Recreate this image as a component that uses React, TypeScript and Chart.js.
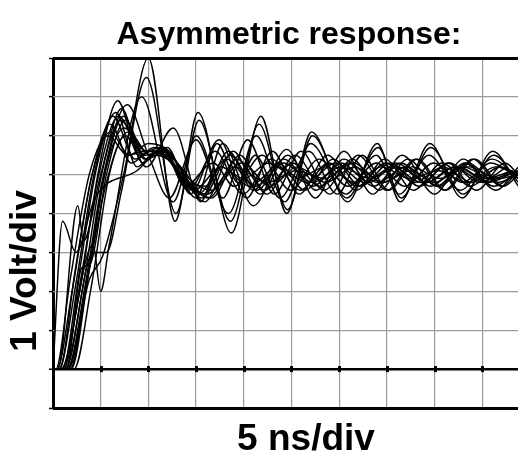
import React, { useEffect, useRef } from "react";
import { Chart, registerables } from "chart.js";

Chart.register(...registerables);

const TITLE = "Asymmetric response:";
const X_LABEL = "5 ns/div";
const Y_LABEL = "1 Volt/div";

// time in ns (5 ns per division), amplitude in volts (1 V per division)
const X_MIN = 0;
const X_MAX = 48.75;
const X_STEP = 5;
const Y_MIN = -1;
const Y_MAX = 8;
const Y_STEP = 1;

type Pt = [number, number];

const traceP1: Pt[] = [[0,0],[1.5,0],[3.8,2.3],[5.2,2.9],[7.4,5.0],[10.0,8.0],[12.8,3.8],[15.2,6.6],[18.7,3.5],[21.8,6.5],[24.5,4.0],[27.1,6.1],[30.9,4.3],[34.0,5.8],[36.4,4.3],[39.5,5.8],[42.9,4.4],[46.1,5.6],[48.8,4.7]];
const traceP2: Pt[] = [[0,0],[1.2,0],[4.2,3.0],[5.6,3.0],[7.2,4.6],[9.8,7.5],[12.9,4.0],[15.3,6.4],[18.6,3.8],[21.6,6.3],[24.6,4.1],[27.2,6.0],[30.8,4.4],[34.1,5.7],[36.5,4.4],[39.6,5.7],[43.0,4.5],[46.2,5.5],[48.8,4.8]];
const traceP3: Pt[] = [[0,0],[0.8,0],[4.2,3.2],[5.0,2.0],[5.9,3.2],[9.3,7.0],[12.6,4.3],[15.0,6.0],[18.4,4.0],[21.3,6.0],[24.3,4.3],[27.0,5.8],[30.7,4.5],[33.9,5.5],[36.3,4.5],[39.4,5.5],[42.7,4.6],[46.0,5.4],[48.8,4.9]];
const traceM1: Pt[] = [[0,0],[0.6,0],[2.4,2.2],[4.3,5.0],[6.3,6.5],[8.6,5.4],[10.6,5.7],[12.4,5.5],[15.6,4.4],[18.6,5.5],[21.4,4.6],[24.2,5.4],[27.2,4.7],[30.2,5.3],[33.2,4.8],[36.0,5.3],[39.2,4.8],[42.0,5.2],[45.2,4.8],[48.2,5.1]];
const traceM2: Pt[] = [[0,0],[0.9,0],[2.8,2.0],[4.7,5.0],[6.8,6.9],[9.0,5.5],[11.2,5.7],[13.0,5.3],[15.9,4.3],[18.9,5.6],[21.7,4.5],[24.6,5.5],[27.6,4.6],[30.5,5.4],[33.6,4.7],[36.5,5.3],[39.6,4.7],[42.6,5.2],[45.6,4.8],[48.6,5.1]];
const traceM3: Pt[] = [[0,0],[1.3,0],[3.2,2.2],[5.0,4.9],[7.1,6.4],[9.6,5.5],[11.6,5.6],[13.4,5.2],[16.3,4.4],[19.3,5.4],[22.2,4.6],[25.1,5.3],[28.0,4.7],[31.0,5.3],[34.0,4.8],[37.0,5.2],[40.0,4.8],[43.0,5.2],[46.0,4.9],[48.8,5.1]];
const traceM4: Pt[] = [[0,0],[1.6,0],[3.4,2.0],[5.4,5.0],[7.5,6.2],[9.8,5.6],[11.8,5.6],[13.8,5.0],[16.6,4.6],[19.8,5.3],[22.8,4.7],[25.6,5.2],[28.6,4.8],[31.6,5.2],[34.6,4.8],[37.6,5.2],[40.6,4.9],[43.6,5.2],[46.6,4.9],[48.8,5.0]];
const traceM5: Pt[] = [[0,0],[2.2,0],[4.0,2.1],[5.9,5.0],[7.9,6.1],[10.2,5.5],[12.0,5.7],[14.4,4.5],[17.4,5.9],[20.3,4.4],[23.0,5.6],[25.8,4.5],[28.8,5.5],[31.8,4.6],[34.8,5.4],[37.8,4.6],[40.8,5.3],[43.8,4.7],[46.8,5.2],[48.8,4.9]];
const traceM6: Pt[] = [[0,0],[0.4,0],[2.0,2.0],[4.0,4.9],[6.0,6.3],[8.2,5.3],[10.2,5.6],[12.0,5.4],[14.8,4.6],[17.6,5.2],[20.6,4.7],[23.6,5.2],[26.6,4.8],[29.6,5.3],[32.6,4.8],[35.6,5.2],[38.6,4.8],[41.6,5.3],[44.6,4.8],[47.6,5.2]];
const traceM7: Pt[] = [[0,0],[1.0,0],[2.7,2.4],[4.5,5.1],[6.6,6.6],[8.8,5.2],[10.8,5.6],[12.8,5.2],[15.0,4.4],[17.2,5.8],[19.4,4.8],[21.2,5.5],[23.8,4.4],[26.8,5.6],[29.8,4.5],[32.4,5.5],[35.2,4.6],[38.2,5.4],[41.2,4.6],[44.2,5.4],[47.2,4.7],[48.8,5.0]];
const traceM8: Pt[] = [[0,0],[1.4,0],[3.0,2.6],[3.9,2.7],[5.6,5.0],[7.6,6.4],[9.8,5.4],[11.8,5.6],[13.6,4.8],[16.2,4.5],[19.0,5.2],[22.5,4.8],[25.5,5.1],[28.5,4.9],[31.5,5.3],[34.5,4.8],[37.5,5.1],[40.5,4.7],[43.5,5.3],[46.5,4.8],[48.8,5.0]];
const traceM9: Pt[] = [[0,0],[1.1,0],[2.9,2.3],[4.8,5.0],[6.9,6.5],[9.2,5.6],[11.4,5.6],[13.6,4.9],[16.6,4.4],[19.6,5.5],[22.4,4.5],[25.4,5.5],[28.4,4.6],[31.4,5.4],[34.2,4.6],[37.2,5.4],[40.2,4.7],[43.2,5.3],[46.2,4.7],[48.8,5.1]];
const traceM10: Pt[] = [[0,0],[0.7,0],[2.3,2.5],[4.1,5.0],[6.0,6.1],[8.0,5.5],[10.0,5.8],[12.2,5.6],[14.0,4.9],[15.8,4.5],[17.6,5.2],[20.0,4.9],[22.6,5.3],[25.6,4.9],[28.6,5.2],[31.6,4.8],[34.4,5.2],[37.4,4.9],[40.4,5.1],[43.4,4.8],[46.4,5.2],[48.8,5.0]];
const traceM11: Pt[] = [[0,0],[1.9,0],[3.7,2.4],[5.5,5.1],[7.4,6.5],[9.6,5.4],[11.6,5.7],[13.8,4.7],[16.8,5.3],[19.0,4.7],[21.9,5.5],[24.9,4.6],[27.9,5.4],[30.9,4.7],[33.9,5.3],[36.9,4.7],[39.9,5.3],[42.9,4.8],[45.9,5.3],[48.8,4.9]];
const traceM12: Pt[] = [[0,0],[0.3,0],[1.8,2.3],[3.8,5.0],[5.8,6.0],[7.8,5.5],[9.8,5.6],[11.8,5.5],[14.2,4.6],[17.0,5.6],[19.9,4.5],[22.9,5.4],[25.9,4.6],[28.9,5.3],[31.9,4.7],[34.9,5.3],[37.9,4.8],[40.9,5.2],[43.9,4.8],[46.9,5.2],[48.8,5.0]];
const traceQ1: Pt[] = [[0,0],[1.8,0],[3.6,2.3],[5.6,4.8],[7.6,6.0],[9.8,5.2],[12.6,6.2],[15.5,4.3],[17.8,5.8],[21.0,4.2],[24.5,5.65],[27.5,4.4],[30.5,5.6],[33.5,4.5],[36.6,5.5],[40.0,4.5],[43.0,5.4],[46.4,4.6],[48.8,5.2]];
const traceQ3: Pt[] = [[0,0],[1.5,0],[3.4,2.2],[5.3,5.0],[7.8,6.8],[10.0,5.5],[12.2,4.4],[15.0,5.9],[17.8,4.4],[20.4,5.9],[23.2,4.5],[26.0,5.6],[29.0,4.5],[32.0,5.5],[35.0,4.6],[38.0,5.4],[41.0,4.6],[44.0,5.4],[47.0,4.7],[48.8,5.1]];
const traceE1: Pt[] = [[0,0],[1.0,3.8],[2.4,3.0],[4.4,4.4],[8.8,5.1],[10.8,5.5],[12.6,5.3],[15.2,4.5],[18.2,5.4],[21.2,4.7],[24.2,5.3],[27.2,4.8],[30.2,5.2],[33.2,4.9],[36.2,5.2],[39.2,4.8],[42.2,5.2],[45.2,4.9],[48.2,5.1]];
const traceE2: Pt[] = [[0,0],[0.5,0],[2.6,4.2],[3.2,3.3],[5.0,5.0],[7.2,6.7],[9.4,5.3],[11.4,5.7],[13.2,5.0],[16.0,4.7],[18.4,5.6],[21.0,4.6],[23.6,5.3],[26.4,4.6],[29.4,5.4],[32.2,4.7],[35.4,5.3],[38.4,4.7],[41.4,5.3],[44.4,4.6],[47.4,5.3],[48.8,5.0]];

const TRACES: Pt[][] = [
  traceP1, traceP2, traceP3,
  traceM1, traceM2, traceM3, traceM4, traceM5, traceM6, traceM7, traceM8,
  traceM9, traceM10, traceM11, traceM12,
  traceQ1, traceQ3, traceE1, traceE2,
];

const FONT = '"Liberation Sans", Arial, Helvetica, sans-serif';

const labelPlugin = {
  id: "scopeLabels",
  afterDatasetsDraw(chart: any) {
    const ctx = chart.ctx;
    const xs = chart.scales.x;
    const ys = chart.scales.y;
    const y0 = ys.getPixelForValue(0);
    ctx.save();
    ctx.fillStyle = "#000";
    xs.ticks.forEach((t: any) => {
      if (t.value > X_MIN && t.value < X_MAX) {
        const px = Math.round(xs.getPixelForValue(t.value));
        ctx.fillRect(px - 1, y0 - 3, 3, 6);
      }
    });
    ctx.restore();
  },
  afterDraw(chart: any) {
    const ctx = chart.ctx;
    ctx.save();
    ctx.fillStyle = "#000";
    ctx.textAlign = "center";
    ctx.textBaseline = "alphabetic";
    ctx.font = `bold 32px ${FONT}`;
    ctx.fillText(TITLE, 289, 44);
    ctx.font = `bold 37px ${FONT}`;
    ctx.fillText(X_LABEL, 306, 450);
    ctx.translate(36, 271);
    ctx.rotate(-Math.PI / 2);
    ctx.fillText(Y_LABEL, 0, 0);
    ctx.restore();
  },
};

export default function App() {
  const ref = useRef<HTMLCanvasElement | null>(null);

  useEffect(() => {
    if (!ref.current) return;
    const chart = new Chart(ref.current, {
      type: "line",
      data: {
        datasets: TRACES.map((tr) => ({
          data: tr.map(([x, y]) => ({ x, y })),
          borderColor: "#000",
          borderWidth: 1.45,
          pointRadius: 0,
          fill: false,
          cubicInterpolationMode: "monotone" as const,
        })),
      },
      options: {
        animation: false,
        responsive: false,
        devicePixelRatio: 1,
        events: [],
        layout: { padding: { top: 58, left: 0, right: 0, bottom: 0 } },
        plugins: {
          legend: { display: false },
          title: { display: false },
          tooltip: { enabled: false },
        },
        scales: {
          x: {
            type: "linear",
            min: X_MIN,
            max: X_MAX,
            ticks: { display: false, stepSize: X_STEP, includeBounds: false },
            border: { display: false },
            grid: {
              drawTicks: false,
              color: (c: any) => (c.tick && c.tick.value === X_MIN ? "#000" : "#9a9a9a"),
              lineWidth: (c: any) => (c.tick && c.tick.value === X_MIN ? 3 : 1.2),
            },
            afterFit: (s: any) => {
              s.height = 45;
            },
          },
          y: {
            type: "linear",
            min: Y_MIN,
            max: Y_MAX,
            ticks: { display: false, stepSize: Y_STEP },
            border: { display: false },
            grid: {
              drawTicks: true,
              tickLength: 4,
              tickColor: "#000",
              tickWidth: 1.5,
              color: (c: any) => {
                const v = c.tick ? c.tick.value : NaN;
                return v === Y_MIN || v === Y_MAX || v === 0 ? "#000" : "#9a9a9a";
              },
              lineWidth: (c: any) => {
                const v = c.tick ? c.tick.value : NaN;
                if (v === Y_MIN || v === Y_MAX) return 3;
                if (v === 0) return 2.5;
                return 1.2;
              },
            },
            afterFit: (s: any) => {
              s.width = 53;
            },
          },
        },
      },
      plugins: [labelPlugin],
    });
    return () => chart.destroy();
  }, []);

  return (
    <div style={{ position: "fixed", left: 0, top: 0, width: 518, height: 453, background: "#fff" }}>
      <canvas ref={ref} width={518} height={453} style={{ display: "block" }} />
    </div>
  );
}
